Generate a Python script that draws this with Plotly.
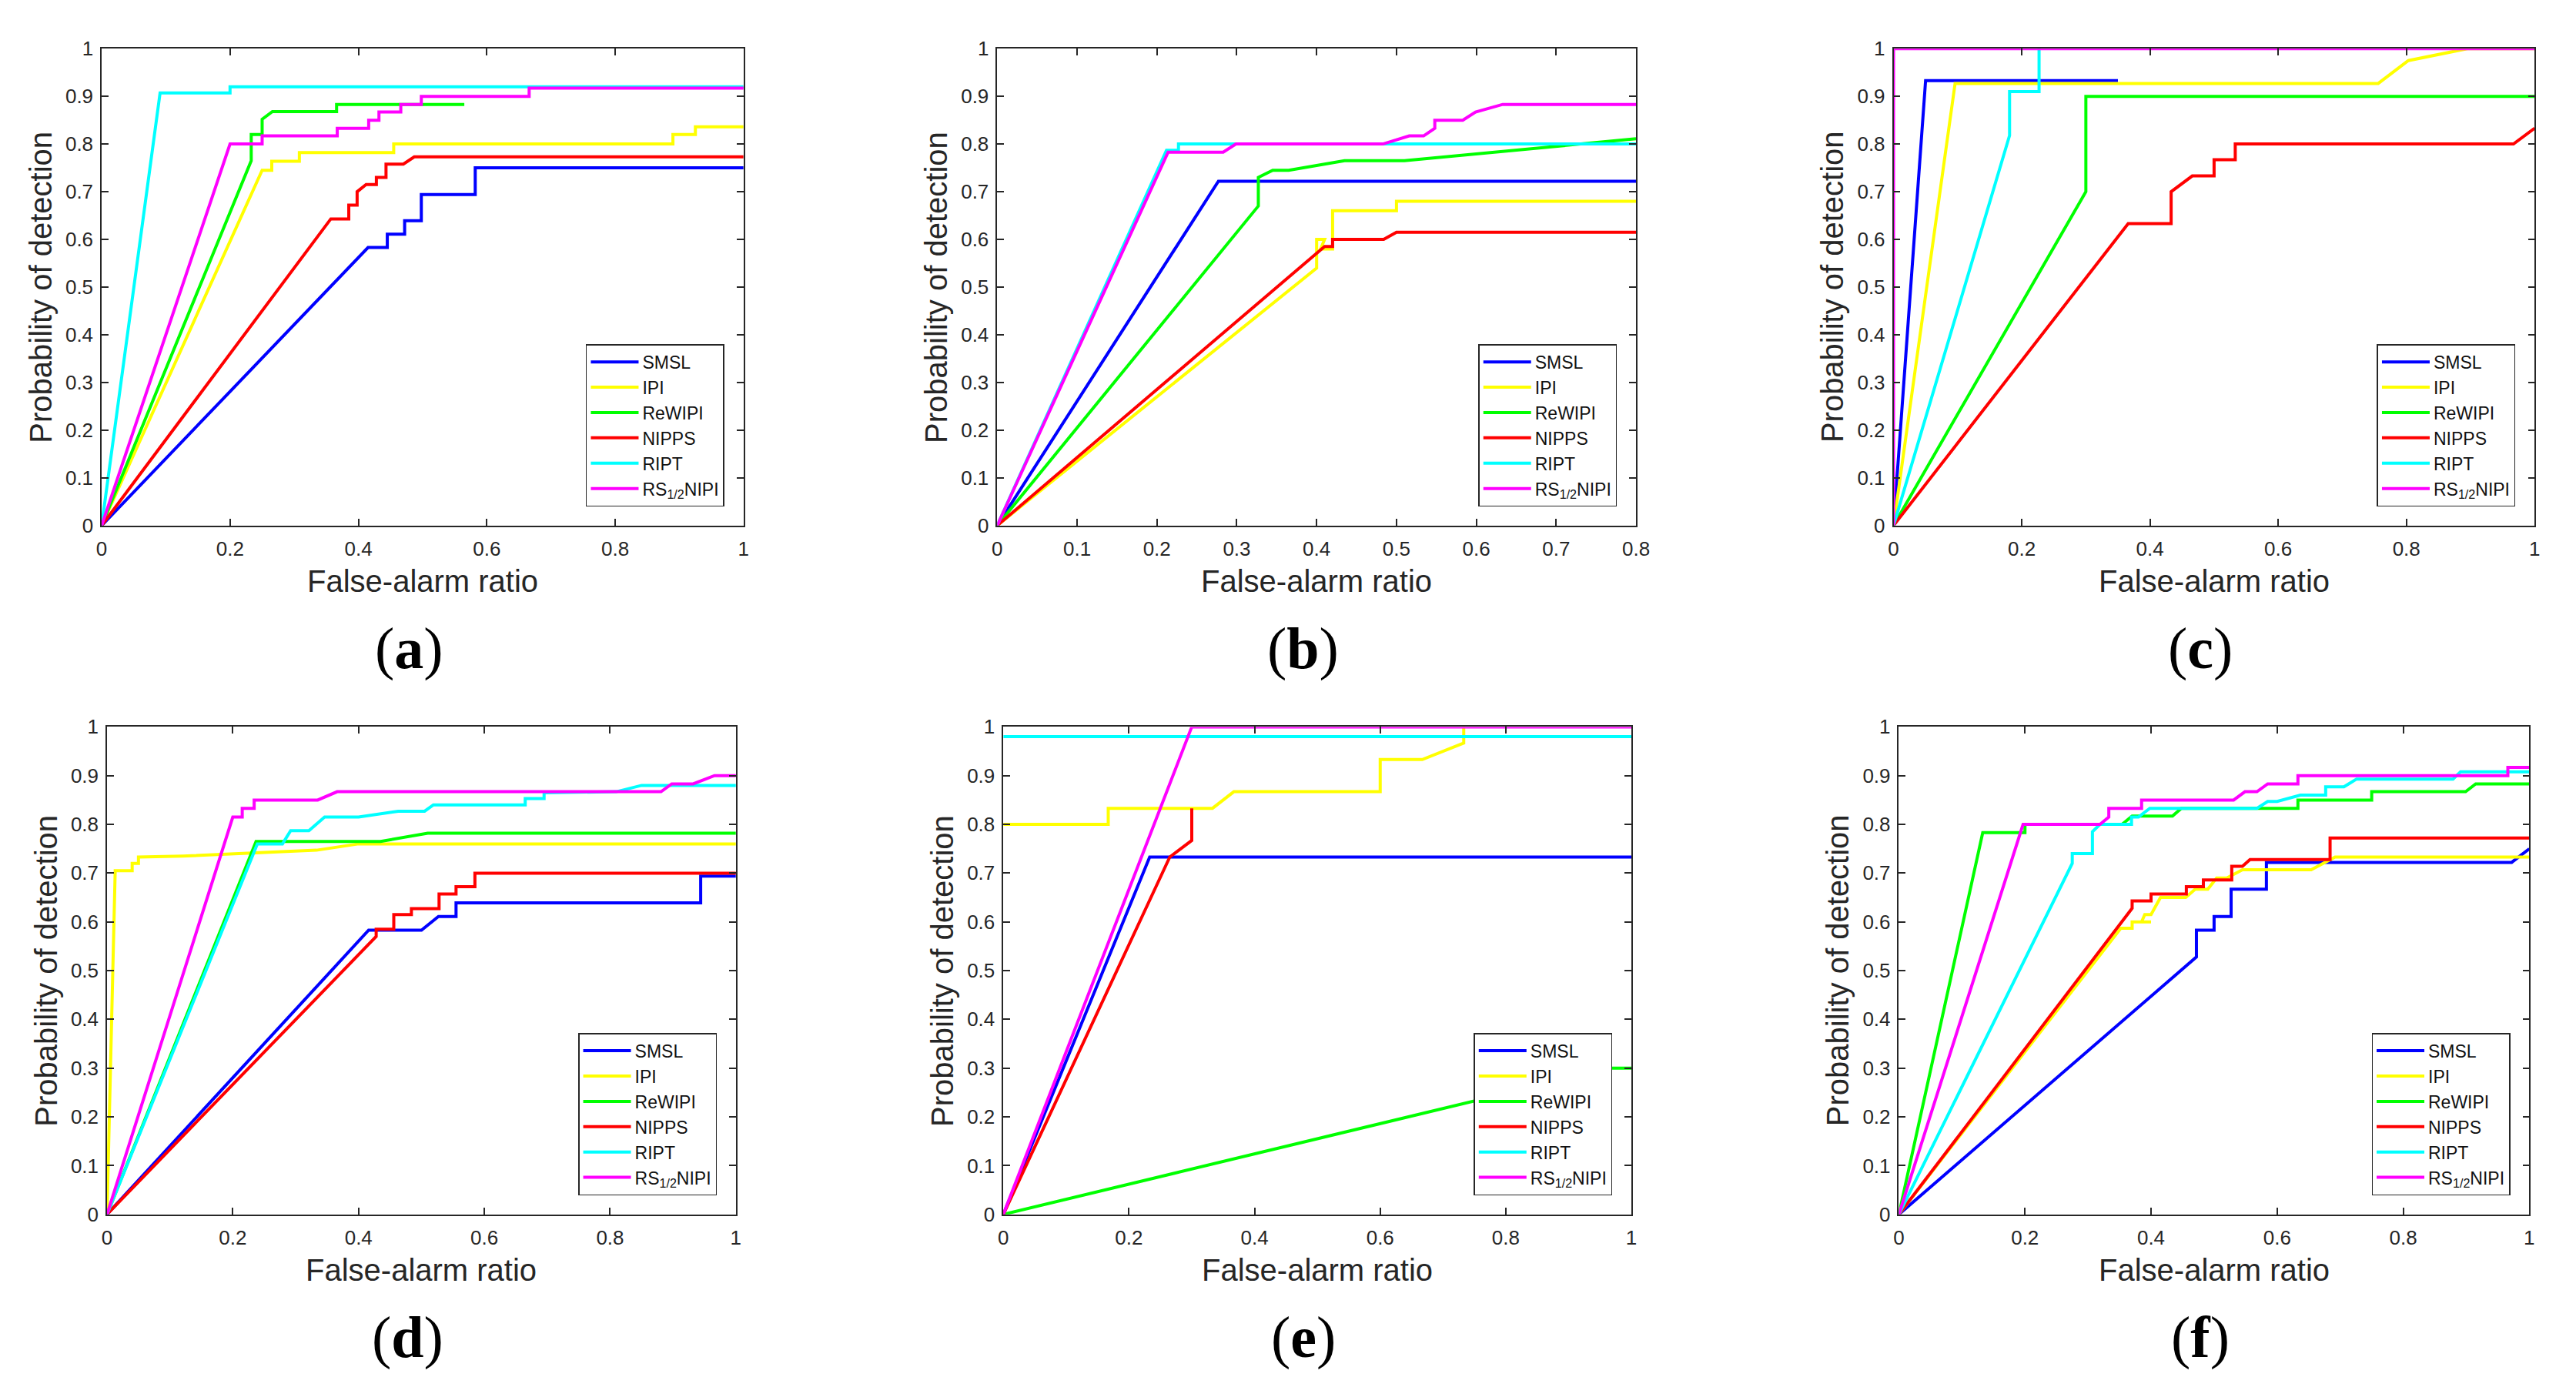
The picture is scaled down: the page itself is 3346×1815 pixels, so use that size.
import plotly.graph_objects as go

W, H = 3346, 1815

METHODS = ["SMSL", "IPI", "ReWIPI", "NIPPS", "RIPT", "RS<sub>1/2</sub>NIPI"]
COLORS = ["#0000FF", "#FFFF00", "#00FF00", "#FF0000", "#00FFFF", "#FF00FF"]
PANEL_LABELS = ["a", "b", "c", "d", "e", "f"]
X_MAX = [1, 0.8, 1, 1, 1, 1]
X_DTICK = [0.2, 0.1, 0.2, 0.2, 0.2, 0.2]
Y_DTICK = 0.1
X_TITLE = "False-alarm ratio"
Y_TITLE = "Probability of detection"

# ---------------- panel (a) ----------------
a_smsl_x = [0, 0.415, 0.445, 0.445, 0.472, 0.472, 0.498, 0.498, 0.582, 0.582, 1]
a_smsl_y = [0, 0.583, 0.583, 0.611, 0.611, 0.639, 0.639, 0.694, 0.694, 0.75, 0.75]
a_ipi_x = [0, 0.25, 0.265, 0.265, 0.308, 0.308, 0.455, 0.455, 0.89, 0.89, 0.925, 0.925, 1]
a_ipi_y = [0, 0.745, 0.745, 0.764, 0.764, 0.782, 0.782, 0.80, 0.80, 0.82, 0.82, 0.836, 0.836]
a_rewipi_x = [0, 0.233, 0.233, 0.25, 0.25, 0.266, 0.366, 0.366, 0.565]
a_rewipi_y = [0, 0.765, 0.82, 0.82, 0.852, 0.868, 0.868, 0.883, 0.883]
a_nipps_x = [0, 0.357, 0.385, 0.385, 0.398, 0.398, 0.412, 0.428, 0.428, 0.443, 0.443, 0.47, 0.487, 1]
a_nipps_y = [0, 0.643, 0.643, 0.672, 0.672, 0.70, 0.715, 0.715, 0.73, 0.73, 0.758, 0.758, 0.773, 0.773]
a_ript_x = [0, 0.091, 0.2, 0.2, 1]
a_ript_y = [0, 0.907, 0.907, 0.92, 0.92]
a_rs_x = [0, 0.2, 0.25, 0.25, 0.367, 0.367, 0.416, 0.416, 0.432, 0.432, 0.466, 0.466, 0.498, 0.498, 0.666, 0.666, 1]
a_rs_y = [0, 0.80, 0.80, 0.817, 0.817, 0.833, 0.833, 0.85, 0.85, 0.867, 0.867, 0.883, 0.883, 0.90, 0.90, 0.917, 0.917]

# ---------------- panel (b) ----------------
b_smsl_x = [0, 0.277, 0.8]
b_smsl_y = [0, 0.722, 0.722]
b_ipi_x = [0, 0.40, 0.40, 0.41, 0.405, 0.42, 0.42, 0.50, 0.50, 0.8]
b_ipi_y = [0, 0.54, 0.60, 0.60, 0.58, 0.58, 0.66, 0.66, 0.68, 0.68]
b_rewipi_x = [0, 0.327, 0.327, 0.345, 0.365, 0.435, 0.51, 0.8]
b_rewipi_y = [0, 0.67, 0.73, 0.745, 0.745, 0.765, 0.765, 0.811]
b_nipps_x = [0, 0.41, 0.42, 0.42, 0.484, 0.50, 0.8]
b_nipps_y = [0, 0.585, 0.585, 0.60, 0.60, 0.615, 0.615]
b_ript_x = [0, 0.212, 0.227, 0.227, 0.8]
b_ript_y = [0, 0.787, 0.787, 0.80, 0.80]
b_rs_x = [0, 0.214, 0.283, 0.299, 0.483, 0.516, 0.534, 0.548, 0.548, 0.583, 0.599, 0.633, 0.8]
b_rs_y = [0, 0.783, 0.783, 0.80, 0.80, 0.817, 0.817, 0.833, 0.85, 0.85, 0.867, 0.883, 0.883]

# ---------------- panel (c) ----------------
c_smsl_x = [0, 0.05, 0.35]
c_smsl_y = [0, 0.933, 0.933]
c_ipi_x = [0, 0.096, 0.756, 0.803, 0.895, 1]
c_ipi_y = [0, 0.927, 0.927, 0.975, 1.0, 1.0]
c_rewipi_x = [0, 0.30, 0.30, 1]
c_rewipi_y = [0, 0.70, 0.90, 0.90]
c_nipps_x = [0, 0.366, 0.433, 0.433, 0.466, 0.50, 0.50, 0.533, 0.533, 0.967, 1]
c_nipps_y = [0, 0.633, 0.633, 0.70, 0.733, 0.733, 0.767, 0.767, 0.80, 0.80, 0.833]
c_ript_x = [0, 0.181, 0.181, 0.227, 0.227]
c_ript_y = [0, 0.818, 0.91, 0.91, 1.0]
c_rs_x = [0, 0, 1]
c_rs_y = [0, 1.0, 1.0]

# ---------------- panel (d) ----------------
d_smsl_x = [0, 0.416, 0.50, 0.527, 0.555, 0.555, 0.944, 0.944, 1]
d_smsl_y = [0, 0.583, 0.583, 0.611, 0.611, 0.639, 0.639, 0.694, 0.694]
d_ipi_x = [0, 0.013, 0.04, 0.04, 0.05, 0.05, 0.12, 0.333, 0.40, 1]
d_ipi_y = [0, 0.705, 0.705, 0.72, 0.72, 0.733, 0.735, 0.747, 0.76, 0.76]
d_rewipi_x = [0, 0.237, 0.435, 0.51, 1]
d_rewipi_y = [0, 0.765, 0.765, 0.782, 0.782]
d_nipps_x = [0, 0.428, 0.428, 0.456, 0.456, 0.484, 0.484, 0.528, 0.528, 0.555, 0.555, 0.585, 0.585, 1]
d_nipps_y = [0, 0.57, 0.585, 0.585, 0.615, 0.615, 0.627, 0.627, 0.657, 0.657, 0.672, 0.672, 0.70, 0.70]
d_ript_x = [0, 0.239, 0.279, 0.292, 0.321, 0.346, 0.40, 0.463, 0.505, 0.519, 0.665, 0.665, 0.695, 0.695, 0.81, 0.85, 1]
d_ript_y = [0, 0.76, 0.76, 0.787, 0.787, 0.815, 0.815, 0.827, 0.827, 0.84, 0.84, 0.853, 0.853, 0.865, 0.867, 0.88, 0.88]
d_rs_x = [0, 0.20, 0.215, 0.215, 0.234, 0.234, 0.335, 0.366, 0.881, 0.898, 0.932, 0.966, 1]
d_rs_y = [0, 0.815, 0.815, 0.833, 0.833, 0.85, 0.85, 0.867, 0.867, 0.883, 0.883, 0.90, 0.90]

# ---------------- panel (e) ----------------
e_smsl_x = [0, 0.233, 1]
e_smsl_y = [0, 0.733, 0.733]
e_ipi_x = [0, 0.167, 0.167, 0.333, 0.367, 0.60, 0.60, 0.667, 0.733, 0.733]
e_ipi_y = [0.80, 0.80, 0.833, 0.833, 0.867, 0.867, 0.933, 0.933, 0.967, 1.0]
e_rewipi_x = [0, 0.967, 1]
e_rewipi_y = [0, 0.30, 0.30]
e_nipps_x = [0, 0.265, 0.30, 0.30]
e_nipps_y = [0, 0.733, 0.767, 0.833]
e_ript_x = [0, 1]
e_ript_y = [0.98, 0.98]
e_rs_x = [0, 0.30, 1]
e_rs_y = [0, 1.0, 1.0]

# ---------------- panel (f) ----------------
f_smsl_x = [0, 0.472, 0.472, 0.50, 0.50, 0.527, 0.527, 0.583, 0.583, 0.972, 1]
f_smsl_y = [0, 0.528, 0.583, 0.583, 0.611, 0.611, 0.667, 0.667, 0.722, 0.722, 0.75]
f_ipi_x = [0, 0.352, 0.37, 0.37, 0.40, 0.385, 0.39, 0.40, 0.415, 0.455, 0.47, 0.49, 0.504, 0.52, 0.545, 0.654, 0.692, 1]
f_ipi_y = [0, 0.587, 0.587, 0.60, 0.60, 0.60, 0.615, 0.615, 0.65, 0.65, 0.667, 0.667, 0.69, 0.69, 0.707, 0.707, 0.733, 0.733]
f_rewipi_x = [0, 0.133, 0.20, 0.20, 0.354, 0.37, 0.434, 0.448, 0.633, 0.633, 0.75, 0.75, 0.899, 0.915, 1]
f_rewipi_y = [0, 0.783, 0.783, 0.80, 0.80, 0.817, 0.817, 0.833, 0.833, 0.85, 0.85, 0.867, 0.867, 0.883, 0.883]
f_nipps_x = [0, 0.37, 0.37, 0.40, 0.40, 0.456, 0.456, 0.483, 0.483, 0.528, 0.528, 0.545, 0.557, 0.684, 0.684, 1]
f_nipps_y = [0, 0.628, 0.643, 0.643, 0.657, 0.657, 0.672, 0.672, 0.686, 0.686, 0.714, 0.714, 0.728, 0.728, 0.772, 0.772]
f_ript_x = [0, 0.275, 0.275, 0.307, 0.307, 0.319, 0.369, 0.369, 0.38, 0.398, 0.568, 0.585, 0.60, 0.637, 0.677, 0.677, 0.706, 0.726, 0.879, 0.891, 1]
f_ript_y = [0, 0.72, 0.74, 0.74, 0.785, 0.80, 0.80, 0.815, 0.815, 0.833, 0.833, 0.847, 0.847, 0.86, 0.86, 0.877, 0.877, 0.893, 0.893, 0.908, 0.908]
f_rs_x = [0, 0.197, 0.319, 0.333, 0.333, 0.385, 0.385, 0.531, 0.549, 0.568, 0.585, 0.633, 0.633, 0.966, 0.966, 1]
f_rs_y = [0, 0.80, 0.80, 0.815, 0.833, 0.833, 0.85, 0.85, 0.867, 0.867, 0.883, 0.883, 0.90, 0.90, 0.917, 0.917]

PANELS = [
    [(a_smsl_x, a_smsl_y), (a_ipi_x, a_ipi_y), (a_rewipi_x, a_rewipi_y),
     (a_nipps_x, a_nipps_y), (a_ript_x, a_ript_y), (a_rs_x, a_rs_y)],
    [(b_smsl_x, b_smsl_y), (b_ipi_x, b_ipi_y), (b_rewipi_x, b_rewipi_y),
     (b_nipps_x, b_nipps_y), (b_ript_x, b_ript_y), (b_rs_x, b_rs_y)],
    [(c_smsl_x, c_smsl_y), (c_ipi_x, c_ipi_y), (c_rewipi_x, c_rewipi_y),
     (c_nipps_x, c_nipps_y), (c_ript_x, c_ript_y), (c_rs_x, c_rs_y)],
    [(d_smsl_x, d_smsl_y), (d_ipi_x, d_ipi_y), (d_rewipi_x, d_rewipi_y),
     (d_nipps_x, d_nipps_y), (d_ript_x, d_ript_y), (d_rs_x, d_rs_y)],
    [(e_smsl_x, e_smsl_y), (e_ipi_x, e_ipi_y), (e_rewipi_x, e_rewipi_y),
     (e_nipps_x, e_nipps_y), (e_ript_x, e_ript_y), (e_rs_x, e_rs_y)],
    [(f_smsl_x, f_smsl_y), (f_ipi_x, f_ipi_y), (f_rewipi_x, f_rewipi_y),
     (f_nipps_x, f_nipps_y), (f_ript_x, f_ript_y), (f_rs_x, f_rs_y)],
]

# plot boxes in pixels: left, right, top, bottom
BOXES = [
    (126, 966, 49, 679),
    (1298, 2134, 49, 679),
    (2471, 3310, 49, 679),
    (133, 956, 945, 1589),
    (1306, 2128, 945, 1589),
    (2478, 3303, 945, 1589),
]

AX_COLOR = "#262626"
FONT = "Liberation Sans, Arial, Helvetica, sans-serif"

fig = go.Figure()
layout = dict(
    width=W, height=H, autosize=False,
    margin=dict(l=0, r=0, t=0, b=0),
    paper_bgcolor="white", plot_bgcolor="white",
    font=dict(family=FONT, color=AX_COLOR),
    annotations=[],
)

for i, (series, box) in enumerate(zip(PANELS, BOXES)):
    n = i + 1
    xa = "x" if n == 1 else f"x{n}"
    ya = "y" if n == 1 else f"y{n}"
    lg = "legend" if n == 1 else f"legend{n}"
    left, right, top, bottom = box
    for (xs, ys), name, col in zip(series, METHODS, COLORS):
        fig.add_trace(go.Scatter(
            x=xs, y=ys, mode="lines", name=name,
            line=dict(color=col, width=4),
            xaxis=xa, yaxis=ya, legend=lg,
        ))
    axis_common = dict(
        showgrid=False, zeroline=False, showline=True, linecolor=AX_COLOR,
        linewidth=1.5, mirror="ticks", ticks="inside", ticklen=9,
        tickwidth=1.5, tickcolor=AX_COLOR,
        tickfont=dict(size=26, color=AX_COLOR, family=FONT),
        fixedrange=True,
    )
    layout["xaxis" if n == 1 else f"xaxis{n}"] = dict(
        axis_common, domain=[left / W, right / W], anchor=ya,
        range=[0, X_MAX[i]], tick0=0, dtick=X_DTICK[i], ticklabelstandoff=6,
    )
    layout["yaxis" if n == 1 else f"yaxis{n}"] = dict(
        axis_common, domain=[1 - bottom / H, 1 - top / H], anchor=xa,
        range=[0, 1], tick0=0, dtick=Y_DTICK, ticklabelstandoff=4,
    )
    layout[lg] = dict(
        x=(right - 25) / W, y=1 - (bottom - 25) / H,
        xanchor="right", yanchor="bottom",
        xref="paper", yref="paper",
        bgcolor="white", bordercolor=AX_COLOR, borderwidth=1.5,
        font=dict(size=23, color="#111111", family=FONT),
        tracegroupgap=0, itemwidth=62,
    )
    cx = (left + right) / 2
    layout["annotations"].append(dict(
        text=X_TITLE, x=cx / W, y=1 - (bottom + 73) / H,
        xref="paper", yref="paper", xanchor="center", yanchor="middle",
        showarrow=False, font=dict(size=40, color=AX_COLOR, family=FONT),
    ))
    layout["annotations"].append(dict(
        text=Y_TITLE, x=(left - 80) / W, y=1 - ((top + bottom) / 2) / H,
        xref="paper", yref="paper", xanchor="center", yanchor="middle",
        textangle=-90, showarrow=False,
        font=dict(size=40, color=AX_COLOR, family=FONT),
    ))
    layout["annotations"].append(dict(
        text=f"(<b>{PANEL_LABELS[i]}</b>)", x=(cx - 18) / W,
        y=1 - (bottom + 162) / H,
        xref="paper", yref="paper", xanchor="center", yanchor="middle",
        showarrow=False,
        font=dict(size=76, color="black", family="Liberation Serif, Times New Roman, serif"),
    ))

fig.update_layout(**layout)
fig.write_html("out.html")
